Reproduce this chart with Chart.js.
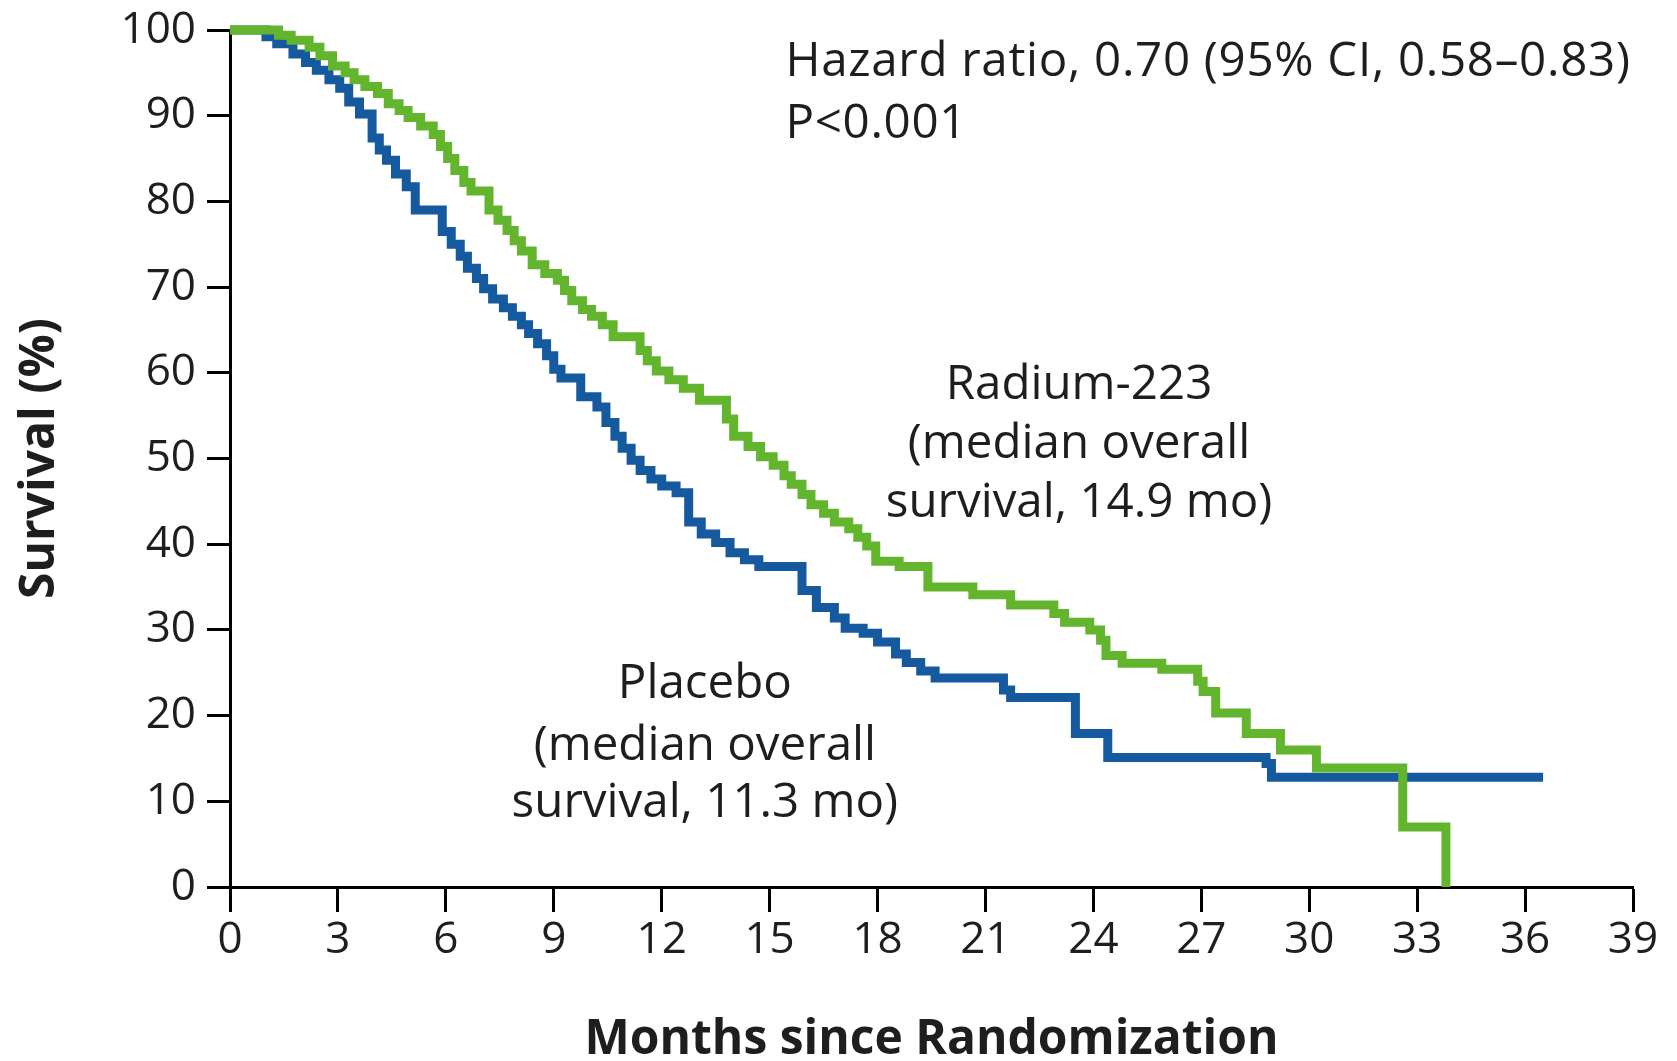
<!DOCTYPE html>
<html>
<head>
<meta charset="utf-8">
<script src="https://cdn.jsdelivr.net/npm/chart.js@4.4.1/dist/chart.umd.min.js"></script>
<style>
  html, body { margin: 0; padding: 0; background: #ffffff; }
  #wrap { width: 1677px; height: 1061px; position: relative; }
</style>
</head>
<body>
<div id="wrap"><canvas id="c" width="1677" height="1061"></canvas></div>
<script>
// ---- Data (months, survival %) ----
const placeboMonths = [0, 1.0, 1.3, 1.75, 2.1, 2.4, 2.75, 3.05, 3.3, 3.6, 3.95, 4.15, 4.35, 4.6, 4.9, 5.15, 5.9, 6.15, 6.4, 6.6, 6.85, 7.05, 7.3, 7.6, 7.85, 8.1, 8.3, 8.55, 8.8, 9.0, 9.2, 9.75, 10.2, 10.45, 10.7, 10.9, 11.15, 11.4, 11.7, 12.0, 12.4, 12.75, 13.1, 13.5, 13.9, 14.3, 14.7, 15.9, 16.3, 16.8, 17.1, 17.6, 18.0, 18.5, 18.8, 19.2, 19.6, 21.5, 21.7, 23.5, 24.4, 28.8, 28.95, 36.5];
const placeboSurvival = [100, 99.2, 98.4, 97.2, 96.2, 95.3, 94.2, 93.2, 91.6, 90.2, 87.4, 86.0, 84.8, 83.2, 81.7, 79.0, 76.5, 75.0, 73.6, 72.2, 71.0, 69.8, 68.6, 67.6, 66.6, 65.6, 64.6, 63.4, 62.0, 60.4, 59.4, 57.2, 56.0, 54.2, 52.6, 51.2, 49.8, 48.6, 47.6, 46.8, 46.0, 42.6, 41.2, 40.2, 39.0, 38.2, 37.4, 34.6, 32.6, 31.4, 30.2, 29.6, 28.6, 27.2, 26.2, 25.2, 24.4, 23.0, 22.1, 17.9, 15.1, 14.4, 12.8, 12.8];

const radiumMonths = [0, 1.35, 1.7, 2.2, 2.5, 2.85, 3.2, 3.45, 3.75, 4.1, 4.4, 4.7, 4.95, 5.3, 5.65, 5.85, 6.05, 6.25, 6.5, 6.7, 7.2, 7.45, 7.7, 7.9, 8.1, 8.4, 8.75, 9.1, 9.3, 9.5, 9.8, 10.05, 10.35, 10.65, 11.4, 11.6, 11.85, 12.2, 12.6, 13.05, 13.8, 14.0, 14.4, 14.75, 15.1, 15.4, 15.6, 15.9, 16.15, 16.5, 16.8, 17.2, 17.45, 17.7, 17.95, 18.6, 19.4, 20.65, 21.7, 22.9, 23.2, 23.9, 24.2, 24.35, 24.8, 25.9, 26.9, 27.05, 27.4, 28.25, 29.2, 30.2, 32.6, 33.8];
const radiumSurvival = [100, 99.4, 98.8, 98.0, 97.0, 95.8, 95.0, 94.2, 93.4, 92.6, 91.4, 90.6, 89.8, 88.8, 87.8, 86.4, 85.0, 83.6, 82.2, 81.2, 79.0, 77.8, 76.6, 75.4, 74.2, 72.6, 71.6, 70.8, 69.6, 68.4, 67.4, 66.6, 65.6, 64.2, 62.6, 61.4, 60.2, 59.2, 58.2, 56.8, 54.6, 52.6, 51.4, 50.2, 49.2, 48.0, 47.0, 45.8, 44.6, 43.6, 42.6, 41.8, 40.8, 39.8, 38.0, 37.4, 35.0, 34.1, 32.9, 31.9, 30.9, 30.0, 28.8, 27.0, 26.1, 25.4, 24.0, 22.8, 20.3, 17.9, 16.0, 13.9, 7.0, 0];

const xTicks = [0, 3, 6, 9, 12, 15, 18, 21, 24, 27, 30, 33, 36, 39];
const yTicks = [0, 10, 20, 30, 40, 50, 60, 70, 80, 90, 100];

const xTitle = 'Months since Randomization';
const yTitle = 'Survival (%)';

// Annotation texts (anchored in data units)
const statLines = ['Hazard ratio, 0.70 (95% CI, 0.58\u20130.83)', 'P<0.001'];
const radiumLines = ['Radium-223', '(median overall', 'survival, 14.9 mo)'];
const placeboLines = ['Placebo', '(median overall', 'survival, 11.3 mo)'];

// ---- Styling ----
const GREEN = '#62b52d';
const BLUE = '#15599f';
const TEXT = '#1e1e1e';
const FONT = '"Open Sans"';

function toPoints(xs, ys) { return xs.map((x, i) => ({ x: x, y: ys[i] })); }

const annotations = [
  { lines: statLines, x: 15.44, y: [94.6, 87.4], align: 'left', spacing: '0.7px' },
  { lines: radiumLines, x: 23.6, y: [57.0, 50.1, 43.2], align: 'center', spacing: '0px' },
  { lines: placeboLines, x: 13.2, y: [22.0, 14.8, 8.2], align: 'center', spacing: '0px' }
];

const annotationPlugin = {
  id: 'textAnnotations',
  afterDatasetsDraw(chart) {
    const ctx = chart.ctx;
    const xs = chart.scales.x, ys = chart.scales.y;
    ctx.save();
    ctx.fillStyle = TEXT;
    ctx.font = '47.5px ' + FONT;
    ctx.textBaseline = 'alphabetic';
    annotations.forEach(a => {
      ctx.textAlign = a.align;
      if ('letterSpacing' in ctx) ctx.letterSpacing = a.spacing;
      a.lines.forEach((t, i) => {
        ctx.fillText(t, xs.getPixelForValue(a.x), ys.getPixelForValue(a.y[i]));
      });
    });
    ctx.restore();
  }
};

new Chart(document.getElementById('c'), {
  type: 'line',
  data: {
    datasets: [
      {
        label: 'Radium-223',
        data: toPoints(radiumMonths, radiumSurvival),
        borderColor: GREEN,
        borderWidth: 9,
        stepped: 'before',
        pointRadius: 0,
        fill: false,
        clip: false,
        borderCapStyle: 'butt',
        borderJoinStyle: 'miter',
        order: 0
      },
      {
        label: 'Placebo',
        data: toPoints(placeboMonths, placeboSurvival),
        borderColor: BLUE,
        borderWidth: 9,
        stepped: 'before',
        pointRadius: 0,
        fill: false,
        clip: false,
        borderCapStyle: 'butt',
        borderJoinStyle: 'miter',
        order: 1
      }
    ]
  },
  options: {
    responsive: false,
    animation: false,
    devicePixelRatio: 1,
    layout: { padding: { left: 0, right: 44, top: 30, bottom: 0 } },
    plugins: {
      legend: { display: false },
      tooltip: { enabled: false }
    },
    scales: {
      x: {
        type: 'linear',
        min: 0,
        max: 39,
        afterBuildTicks(scale) { scale.ticks = xTicks.map(v => ({ value: v })); },
        afterFit(scale) { scale.height = 174; },
        ticks: {
          color: TEXT,
          font: { family: FONT, size: 44 },
          padding: 2,
          maxRotation: 0,
          autoSkip: false
        },
        grid: {
          display: true,
          drawOnChartArea: false,
          drawTicks: true,
          tickLength: 25,
          tickWidth: 3,
          tickColor: '#000'
        },
        border: { display: true, color: '#000', width: 3 },
        title: {
          display: true,
          text: xTitle,
          color: TEXT,
          font: { family: FONT, size: 48, weight: 'bold', lineHeight: 0.85 },
          padding: { top: 0, bottom: 0 }
        }
      },
      y: {
        type: 'linear',
        min: 0,
        max: 100,
        afterBuildTicks(scale) { scale.ticks = yTicks.map(v => ({ value: v })); },
        afterFit(scale) { scale.width = 230; scale.paddingTop = 0; scale.paddingBottom = 0; },
        ticks: {
          color: TEXT,
          font: { family: FONT, size: 44 },
          padding: 11,
          autoSkip: false
        },
        grid: {
          display: true,
          drawOnChartArea: false,
          drawTicks: true,
          tickLength: 23,
          tickWidth: 3,
          tickColor: '#000'
        },
        border: { display: true, color: '#000', width: 3 },
        title: {
          display: true,
          text: yTitle,
          color: TEXT,
          font: { family: FONT, size: 48, weight: 'bold', lineHeight: 1.2 },
          padding: { top: 12, bottom: 0 }
        }
      }
    }
  },
  plugins: [annotationPlugin]
});
</script>
</body>
</html>
